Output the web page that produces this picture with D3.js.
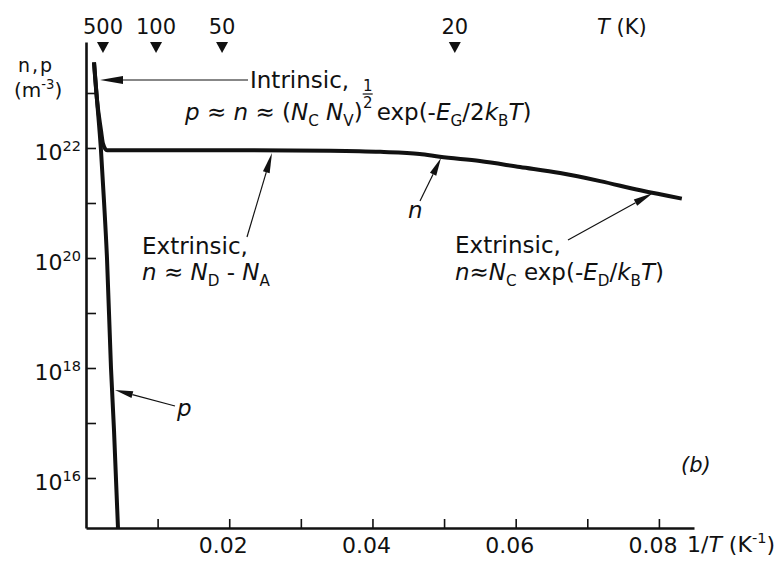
<!DOCTYPE html>
<html>
<head>
<meta charset="utf-8">
<script src="https://cdn.jsdelivr.net/npm/d3@7"></script>
<style>
  html, body { margin: 0; padding: 0; background: #fff; }
  svg { display: block; }
  text { font-family: "DejaVu Sans", sans-serif; fill: #111; white-space: pre; }
</style>
</head>
<body>
<svg id="chart" width="777" height="561"></svg>
<script>
// ---------------- data ----------------
// electrons n : 1/T (K^-1) and concentration (m^-3)
const nInvT  = [0.00112, 0.00154, 0.00209, 0.00237, 0.00293, 0.00894, 0.0229, 0.0341, 0.0411, 0.0466, 0.0494, 0.0550, 0.0606, 0.0662, 0.0718, 0.0774, 0.0832];
const nVals  = [3.6e23, 7.4e22, 2.1e22, 1.2e22, 9.1e21, 9.1e21, 9.1e21, 8.9e21, 8.5e21, 7.8e21, 6.9e21, 5.8e21, 4.5e21, 3.5e21, 2.5e21, 1.7e21, 1.2e21];
// holes p
const pInvT  = [0.00112, 0.00154, 0.00209, 0.00251, 0.00293, 0.00349, 0.00391, 0.00447];
const pVals  = [3.6e23, 7.4e22, 9.1e21, 1.1e21, 1.0e20, 1.0e18, 7.4e16, 1.2e15];
// bottom axis
const xTicks      = [0.01, 0.02, 0.03, 0.04, 0.05, 0.06, 0.07, 0.08];
const xTickLabels = ["0.02", "0.04", "0.06", "0.08"];
const xLabelVals  = [0.02, 0.04, 0.06, 0.08];
// left axis
const yTicks      = [1e16, 1e17, 1e18, 1e19, 1e20, 1e21, 1e22, 1e23];
const yLabelExps  = ["16", "18", "20", "22"];
const yLabelVals  = [1e16, 1e18, 1e20, 1e22];
// top temperature markers (T in K, placed where drawn along 1/T)
const topT        = ["500", "100", "50", "20"];
const topInvT     = [0.00237, 0.00978, 0.0190, 0.0515];

// ---------------- layout ----------------
const svg = d3.select("#chart");
const X0 = 86, X1 = 694, Y0 = 528, Y1 = 42;
const x = d3.scaleLinear().domain([0, 0.0849]).range([X0, X1]);
const y = d3.scaleLog().domain([Math.pow(10, 15.091), Math.pow(10, 23.927)]).range([Y0, Y1]);

// rich text helper
function rich(sel, px, py, segs, size, anchor) {
  const t = sel.append("text").attr("x", px).attr("y", py)
    .attr("font-size", size).attr("text-anchor", anchor || "start");
  let off = 0;
  segs.forEach(([s, k]) => {
    const target = k === "sub" ? size * 0.28 : k === "sup" ? -size * 0.42 : 0;
    const ts = t.append("tspan").attr("dy", target - off).text(s);
    off = target;
    if (k === "i") ts.attr("font-style", "italic");
    if (k === "sub" || k === "sup") ts.attr("font-size", size * 0.66);
  });
  return t;
}

// arrow: line from tail to tip, with filled head at tip
function arrow(tx, ty, hx, hy, len, wid) {
  const dx = hx - tx, dy = hy - ty, L = Math.hypot(dx, dy);
  const ux = dx / L, uy = dy / L, nx = -uy, ny = ux;
  const bx = hx - ux * len, by = hy - uy * len;
  svg.append("line").attr("x1", tx).attr("y1", ty).attr("x2", bx).attr("y2", by)
    .attr("stroke", "#111").attr("stroke-width", 1.2);
  svg.append("path")
    .attr("d", `M${hx},${hy}L${bx + nx * wid / 2},${by + ny * wid / 2}L${bx - nx * wid / 2},${by - ny * wid / 2}Z`)
    .attr("fill", "#111");
}

// ---------------- axes ----------------
const yAxis = d3.axisLeft(y).tickValues(yTicks).tickSizeInner(-10).tickSizeOuter(0).tickFormat("");
const gy = svg.append("g").attr("transform", `translate(${X0},0)`).call(yAxis);
gy.select(".domain").attr("stroke", "#111").attr("stroke-width", 2.6);
gy.selectAll(".tick line").attr("stroke", "#111").attr("stroke-width", 1.6);

const xAxis = d3.axisBottom(x).tickValues(xTicks).tickSizeInner(-9).tickSizeOuter(0).tickFormat("");
const gx = svg.append("g").attr("transform", `translate(0,${Y0})`).call(xAxis);
gx.select(".domain").attr("stroke", "#111").attr("stroke-width", 2.6);
gx.selectAll(".tick line").attr("stroke", "#111").attr("stroke-width", 1.6);

// bottom labels
xLabelVals.forEach((v, i) => {
  svg.append("text").attr("x", x(v) - 6).attr("y", 553).attr("text-anchor", "middle")
    .attr("font-size", 22).text(xTickLabels[i]);
});
rich(svg, 687, 552, [["1/", ""], ["T", "i"], [" (K", ""], ["-1", "sup"], [")", ""]], 22);

// left labels
yLabelVals.forEach((v, i) => {
  rich(svg, 81, y(v) + 12, [["10", ""], [yLabelExps[i], "sup"]], 22, "end");
});
rich(svg, 18, 72, [["n,p", ""]], 19).attr("letter-spacing", 2);
rich(svg, 14, 97, [["(m", ""], ["-3", "sup"], [")", ""]], 20);

// top temperature markers
topInvT.forEach((v, i) => {
  const cx = x(v);
  svg.append("path").attr("d", `M${cx - 6},42L${cx + 6},42L${cx},53Z`).attr("fill", "#111");
  svg.append("text").attr("x", cx).attr("y", 34).attr("text-anchor", "middle")
    .attr("font-size", 21).text(topT[i]);
});
rich(svg, 597, 34, [["T", "i"], [" (K)", ""]], 21);

// ---------------- curves ----------------
const line = d3.line().x(d => x(d[0])).y(d => y(d[1])).curve(d3.curveMonotoneX);
svg.append("path").datum(nInvT.map((v, i) => [v, nVals[i]])).attr("d", line)
  .attr("fill", "none").attr("stroke", "#111").attr("stroke-width", 4).attr("stroke-linejoin", "round");
svg.append("path").datum(pInvT.map((v, i) => [v, pVals[i]])).attr("d", line)
  .attr("fill", "none").attr("stroke", "#111").attr("stroke-width", 4).attr("stroke-linejoin", "round");

// ---------------- annotations ----------------
// Intrinsic
arrow(248, 80, 100, 80, 23, 8);
rich(svg, 250, 88, [["Intrinsic,", ""]], 23);
const partA = rich(svg, 185, 120, [["p", "i"], [" ≈ ", ""], ["n", "i"], [" ≈ (", ""], ["N", "i"], ["C", "sub"], [" ", ""], ["N", "i"], ["V", "sub"], [")", ""]], 23);
const bbA = partA.node().getBBox();
const fx = bbA.x + bbA.width + 5;
svg.append("text").attr("x", fx).attr("y", 91).attr("text-anchor", "middle").attr("font-size", 15).text("1");
svg.append("line").attr("x1", fx - 5).attr("x2", fx + 5).attr("y1", 94).attr("y2", 94).attr("stroke", "#111").attr("stroke-width", 1.2);
svg.append("text").attr("x", fx).attr("y", 108).attr("text-anchor", "middle").attr("font-size", 15).text("2");
rich(svg, fx + 9, 120, [["exp(-", ""], ["E", "i"], ["G", "sub"], ["/2", ""], ["k", "i"], ["B", "sub"], ["T", "i"], [")", ""]], 23);

// Extrinsic (plateau)
arrow(247, 237, 272, 153, 20, 7);
rich(svg, 142, 254, [["Extrinsic,", ""]], 23);
rich(svg, 142, 280, [["n", "i"], [" ≈ ", ""], ["N", "i"], ["D", "sub"], [" - ", ""], ["N", "i"], ["A", "sub"]], 23);

// n label
arrow(420, 201, 441, 158, 18, 7);
rich(svg, 408, 218, [["n", "i"]], 23);

// Extrinsic (freeze-out)
arrow(568, 240, 653, 193, 20, 7);
rich(svg, 455, 253, [["Extrinsic,", ""]], 23);
rich(svg, 455, 280, [["n", "i"], ["≈", ""], ["N", "i"], ["C", "sub"], [" exp(-", ""], ["E", "i"], ["D", "sub"], ["/", ""], ["k", "i"], ["B", "sub"], ["T", "i"], [")", ""]], 23);

// p label
arrow(175, 406, 115, 390, 18, 7);
rich(svg, 177, 416, [["p", "i"]], 23);

// panel tag
rich(svg, 681, 472, [["(b)", "i"]], 21);
</script>
</body>
</html>
